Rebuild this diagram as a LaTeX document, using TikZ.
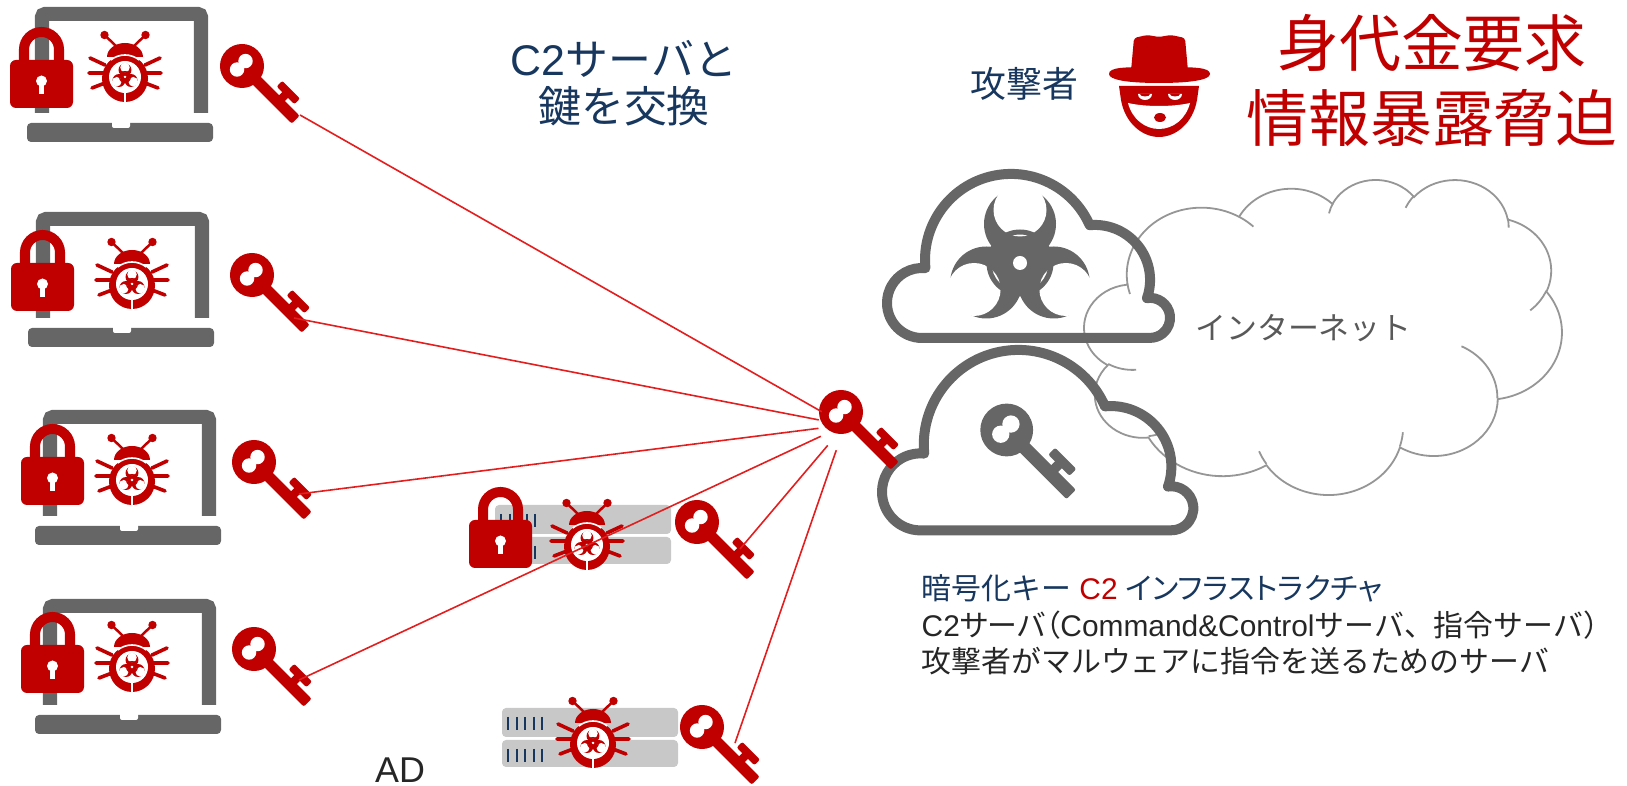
\documentclass[tikz,border=0pt]{standalone}
\usepackage{fontspec}
\setmainfont{Liberation Sans}
\newfontfamily\jp{Noto Sans CJK JP}
\newfontfamily\jpp[RawFeature=+palt]{Noto Sans CJK JP}
\definecolor{alert}{RGB}{192,0,0}
\definecolor{wire}{RGB}{228,30,30}
\definecolor{ink}{RGB}{102,102,102}
\definecolor{rack}{RGB}{200,200,200}
\definecolor{navy}{RGB}{23,55,94}
\definecolor{haze}{RGB}{150,150,150}
\definecolor{txt}{RGB}{38,38,38}
\definecolor{netgray}{RGB}{89,89,89}
\newdimen\px \px=0.2845pt

% icons are drawn in screen pixels, y pointing down
\tikzset{
  pics/key/.style={code={\begin{scope}[yscale=-1]
    \fill[#1, rounded corners=2\px] (12,-5.5) rectangle (76,5.5);
    \fill[#1] (47,-4) rectangle (55,-12);
    \fill[#1, rounded corners=2\px] (39,-10) rectangle (64,-18);
    \fill[#1] (0,0) circle (22);
    \fill[white] (-1,-6) circle (7.2) (-1,6) circle (7.2);
  \end{scope}}},
  pics/lock/.style={code={\begin{scope}[yscale=-1]
    \draw[#1, line width=10\px] (-17.5,4) -- (-17.5,-10.5)
      arc[start angle=180, end angle=360, radius=17.5] -- (17.5,4);
    \fill[#1, rounded corners=6\px] (-31.5,0) rectangle (31.5,48);
    \fill[white] (0,21) circle (5.5);
    \fill[white] (-2.5,21) rectangle (2.5,34);
  \end{scope}}},
  pics/biohazard/.style={code={\begin{scope}[yscale=-1]
    \foreach \a in {270,30,150} \fill[#1] (\a:39) circle (36);
    \foreach \a in {270,30,150} \fill[white] (\a:53) circle (26.5);
    \fill[#1, even odd rule] (0,0) circle (33.5) circle (28.5);
    \fill[white] (0,0) circle (7);
  \end{scope}}},
  pics/bug/.style={code={\begin{scope}[yscale=-1]
    \draw[#1, line width=2.5\px] (-9,-31) -- (-20.5,-42) (9,-31) -- (20.5,-42);
    \fill[#1] (-20.5,-42) circle (4.2) (20.5,-42) circle (4.2);
    \draw[#1, line width=3.6\px, line cap=round]
      (-20,-12) -- (-35,-19) (-21,-4) -- (-36,-4) (-20,6) -- (-33,11)
      (20,-12) -- (35,-19) (21,-4) -- (36,-4) (20,6) -- (33,11);
    \fill[#1] (-18,-20) arc[start angle=180, end angle=360, x radius=18, y radius=14] -- cycle;
    \fill[#1] (0,1.5) ellipse [x radius=23, y radius=23.5];
    \draw[white, line width=1.6\px] ([shift={(0,1.5)}]232:23 and 23.5)
      arc[start angle=232, end angle=308, x radius=23, y radius=23.5];
    \fill[white] (0,0) circle (16);
    \draw[white, line width=1.6\px] (0,15) -- (0,26);
  \end{scope}
    \pic[scale=0.18] {biohazard=#1};
  }},
  pics/laptop/.style={code={\begin{scope}[yscale=-1]
    \draw[ink, line width=14\px, rounded corners=3\px] (7,106) -- (7,7) -- (166,7) -- (166,106);
    \fill[ink, rounded corners=4\px] (-8,116) rectangle (178,135);
    \fill[white, rounded corners=2\px] (77,112) rectangle (95,121);
  \end{scope}}},
  pics/server/.style={code={\begin{scope}[yscale=-1]
    \fill[rack, rounded corners=4\px] (0,0) rectangle (176,29);
    \fill[rack, rounded corners=4\px] (0,32) rectangle (176,59);
    \foreach \i in {0,...,4}
      \draw[navy, line width=2\px] (6+8.5*\i,9) -- ++(0,13) (6+8.5*\i,41) -- ++(0,13);
  \end{scope}}},
  pics/cloudicon/.style={code={\begin{scope}[yscale=-1]
    \draw[ink, line width=10\px, line join=round] (62,188)
      arc[start angle=90, end angle=275.6, radius=35]
      arc[start angle=174.5, end angle=336.2, radius=86]
      arc[start angle=264.4, end angle=379.3, radius=55]
      arc[start angle=261.1, end angle=450, radius=20] -- cycle;
  \end{scope}}}
}

\begin{document}
\begin{tikzpicture}[x=0.01cm, y=0.01cm, yscale=-1,
  netline/.style={draw=haze, line width=1.8\px},
  wire/.style={draw=wire, line width=1.6\px},
  hubring/.style={circle, minimum size=52\px, inner sep=0},
  title/.style={text=alert, align=center, inner sep=0, font=\jp\fontsize{17.6}{21.3}\selectfont},
  swaptxt/.style={text=navy, align=center, inner sep=0, font=\fontsize{12.2}{13.4}\selectfont},
  who/.style={text=navy, inner sep=0, font=\jp\fontsize{10.2}{12}\selectfont},
  nettxt/.style={text=netgray, inner sep=0, font=\jp\fontsize{8.8}{10}\selectfont},
  legend/.style={text=txt, anchor=west, inner sep=0, font=\fontsize{8.5}{10}\selectfont}]
 \useasboundingbox (0,0) rectangle (1627,786);

 % internet cloud
 \begin{scope}[shift={(1084.35,178.95)}, xscale=1.105, yscale=0.729]
  \draw[netline] (39.00,143.70)
    arc[start angle=172.25, end angle=300.36, x radius=67.53, y radius=91.90]
    arc[start angle=-152.02, end angle=-45.43, x radius=53.33, y radius=72.67]
    arc[start angle=-153.49, end angle=-37.31, x radius=43.65, y radius=59.45]
    arc[start angle=-139.72, end angle=-10.22, x radius=48.57, y radius=65.95]
    arc[start angle=-74.77, end angle=23.21, x radius=53.33, y radius=72.73]
    arc[start angle=-37.54, end angle=81.86, x radius=67.75, y radius=92.20]
    arc[start angle=0.46, end angle=121.98, x radius=57.85, y radius=78.67]
    arc[start angle=16.85, end angle=146.23, x radius=67.52, y radius=92.15]
    arc[start angle=58.98, end angle=150.18, x radius=77.20, y radius=105.43]
    arc[start angle=83.31, end angle=223.12, x radius=43.60, y radius=59.18]
    arc[start angle=120.36, end angle=264.11, x radius=43.45, y radius=59.45]
    -- cycle;
  \draw[netline] (46.93,261.77) arc[start angle=85.55, end angle=120.36, x radius=43.45, y radius=59.45];
  \draw[netline] (69.28,348.99) arc[start angle=68.23, end angle=83.31, x radius=43.60, y radius=59.18];
  \draw[netline] (164.78,390.90) arc[start angle=146.23, end angle=158.47, x radius=67.52, y radius=92.15];
  \draw[netline] (288.27,347.51) arc[start angle=4.74, end angle=16.85, x radius=67.52, y radius=92.15];
  \draw[netline] (341.29,229.54) arc[start angle=-64.02, end angle=0.46, x radius=57.85, y radius=78.67];
  \draw[netline] (417.98,153.54) arc[start angle=23.21, end angle=49.64, x radius=53.33, y radius=72.73];
  \draw[netline] (383.24,54.26) arc[start angle=-10.22, end angle=0.83, x radius=48.57, y radius=65.95];
  \draw[netline] (290.78,39.52) arc[start angle=-156.29, end angle=-139.72, x radius=48.57, y radius=65.95];
  \draw[netline] (221.41,47.20) arc[start angle=-167.72, end angle=-153.49, x radius=43.65, y radius=59.45];
  \draw[netline] (140.00,51.92) arc[start angle=-59.64, end angle=-45.75, x radius=67.53, y radius=91.90];
  \draw[netline] (41.27,157.89) arc[start angle=163.19, end angle=172.25, x radius=67.53, y radius=91.90];
 \end{scope}
 \node[nettxt] (inet) at (1303.5,328) {インターネット};

 % C2 clouds
 \pic (biocloud) at (860,150) {cloudicon};
 \pic at (1020,263) {biohazard=ink};
 \pic[scale=1.1] (keycloud) at (852.3,323.6) {cloudicon};
 \pic[rotate=-45, scale=1.2] at (1006.7,430) {key=ink};

 % infected laptops
 \pic (lap1) at (35,7) {laptop};
 \pic (lap2) at (36,212) {laptop};
 \pic (lap3) at (43,410) {laptop};
 \pic (lap4) at (43,599) {laptop};
 \pic at (41.5,60) {lock=alert};
 \pic at (42.5,263) {lock=alert};
 \pic at (52.5,457) {lock=alert};
 \pic at (52.5,645) {lock=alert};
 \pic at (125,77) {bug=alert};
 \pic at (132,284) {bug=alert};
 \pic at (132,480) {bug=alert};
 \pic at (132,667) {bug=alert};
 \pic[rotate=-45] at (242,66) {key=alert};
 \pic[rotate=-45] at (252,275) {key=alert};
 \pic[rotate=-45] at (254,462) {key=alert};
 \pic[rotate=-45] at (254,649) {key=alert};

 % servers
 \pic (srv1) at (495,505) {server};
 \pic (srv2) at (502,708) {server};
 \pic at (500.5,520) {lock=alert};
 \pic at (587,545) {bug=alert};
 \pic at (593,743) {bug=alert};
 \pic[rotate=-45] at (697,522) {key=alert};
 \pic[rotate=-45] at (702,727) {key=alert};

 % key exchange hub
 \pic[rotate=-45] at (841,412) {key=alert};
 \node[hubring] (hub) at (845,425) {};
 \coordinate (k1) at (300,115);
 \coordinate (k2) at (294,318);
 \coordinate (k3) at (299,494);
 \coordinate (k4) at (299,680);
 \coordinate (k5) at (740,549);
 \coordinate (k6) at (735,743);
 \foreach \w in {k1,k2,k3,k4,k5,k6} \draw[wire] (\w) -- (hub);

 % attacker
 \fill[alert, rounded corners=3\px] (1131,71) -- (1134,38) -- (1147,35) -- (1159,37)
   -- (1171,35) -- (1185,38) -- (1188,71) -- cycle;
 \fill[alert] (1109,74) .. controls (1109,67) and (1125,67) .. (1159,67)
   .. controls (1193,67) and (1210,67) .. (1210,74)
   .. controls (1210,80) and (1190,83) .. (1159,83)
   .. controls (1128,83) and (1109,80) .. (1109,74) -- cycle;
 \fill[alert] (1119,86) -- (1199,86) -- (1197,100) .. controls (1193,123) and (1176,137) .. (1159,137)
   .. controls (1142,137) and (1125,123) .. (1121,100) -- cycle;
 \fill[white] (1128,103) .. controls (1145,107) and (1173,107) .. (1190,103)
   .. controls (1186,119) and (1173,129) .. (1159,129)
   .. controls (1145,129) and (1132,119) .. (1128,103) -- cycle;
 \fill[white] (1138,94) arc[start angle=180, end angle=0, x radius=7, y radius=6] -- cycle;
 \fill[white] (1168,94) arc[start angle=180, end angle=0, x radius=7, y radius=6] -- cycle;
 \fill[alert] (1140,94) arc[start angle=180, end angle=0, x radius=5, y radius=2.5] -- cycle;
 \fill[alert] (1170,94) arc[start angle=180, end angle=0, x radius=5, y radius=2.5] -- cycle;
 \fill[alert] (1160,117.5) ellipse [x radius=6, y radius=4.5];
 \node[who] (attacker) at (1024.5,84) {攻撃者};
 \node[title] (ransom) at (1432,80.5) {身代金要求\\情報暴露脅迫};

 % captions
 \node[swaptxt] (swap) at (624,83) {C2{\jp サーバと}\\{\jp 鍵を交換}};
 \node[legend] (infra) at (921,588) {{\color{navy}\jp 暗号化キー} {\color{alert}C2} {\color{navy}\jpp インフラストラクチャ}};
 \node[legend] (c2def) at (921,625) {C2{\jpp サーバ（}Command\&Control{\jp サーバ、指令サーバ）}};
 \node[legend] (c2role) at (921,661) {{\jp 攻撃者がマルウェアに指令を送るためのサーバ}};
 \node[text=txt, inner sep=0, font=\fontsize{10.2}{12}\selectfont] (ad) at (400,770) {AD};
\end{tikzpicture}
\end{document}
